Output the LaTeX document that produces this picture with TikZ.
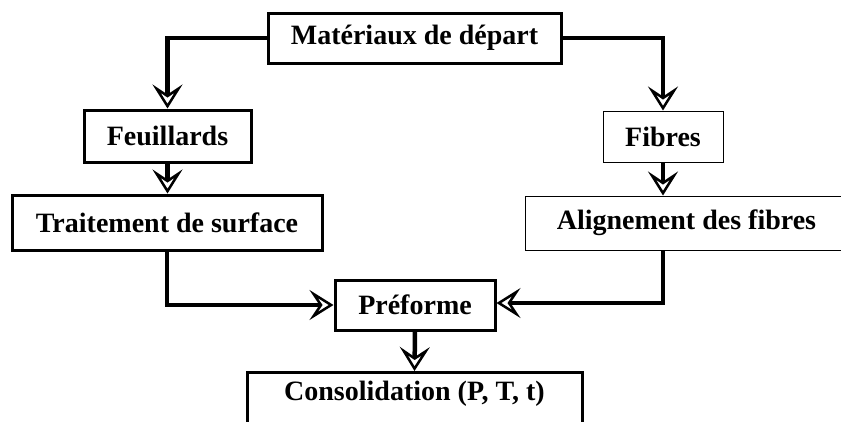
\documentclass[tikz,border=0pt]{standalone}
\usepackage{fontspec}
\setmainfont{Liberation Serif}
\usetikzlibrary{arrows.meta}
\begin{document}
\begin{tikzpicture}[x=1pt,y=-1pt,
  box/.style={draw, line width=3pt, fill=white, inner sep=0pt, font=\bfseries\fontsize{28}{30}\selectfont},
  thinbox/.style={box, line width=1pt},
  conn/.style={line width=4.5pt, -{Stealth[open, fill=white, length=24pt, width=30pt, inset=10pt, line width=2.5pt]}}]
\clip (0,0) rectangle (841,421);
\fill[white] (0,0) rectangle (841,421);
\node[box, minimum width=293pt, minimum height=50pt] (mat) at (414.5,38) {Matériaux de départ};
\node[box, minimum width=167pt, minimum height=52pt] (feu) at (167.5,136) {Feuillards};
\node[thinbox, minimum width=120pt, minimum height=51pt] (fib) at (663,136.5) {Fibres};
\node[box, minimum width=310pt, minimum height=55pt] (trait) at (167,222.5) {Traitement de surface};
\node[thinbox, minimum width=323pt, minimum height=54pt] (align) at (686.5,223) {Alignement des fibres};
\node[box, minimum width=160pt, minimum height=50pt] (pref) at (415,305) {Préforme};
\node[box, minimum width=335pt, text height=28pt, text depth=45pt, anchor=north] (cons) at (414.5,371) {Consolidation (P, T, t)};
\draw[conn] (mat.west) -| (feu.north);
\draw[conn] (mat.east) -| (fib.north);
\draw[conn] (feu.south) -- (feu.south |- trait.north);
\draw[conn] (fib.south) -- (fib.south |- align.north);
\draw[conn] (trait.south) |- (pref.west);
\draw[conn] (fib.south |- align.south) |- ([yshift=2pt]pref.east);
\draw[conn] (pref.south) -- (cons.north);
\end{tikzpicture}
\end{document}
